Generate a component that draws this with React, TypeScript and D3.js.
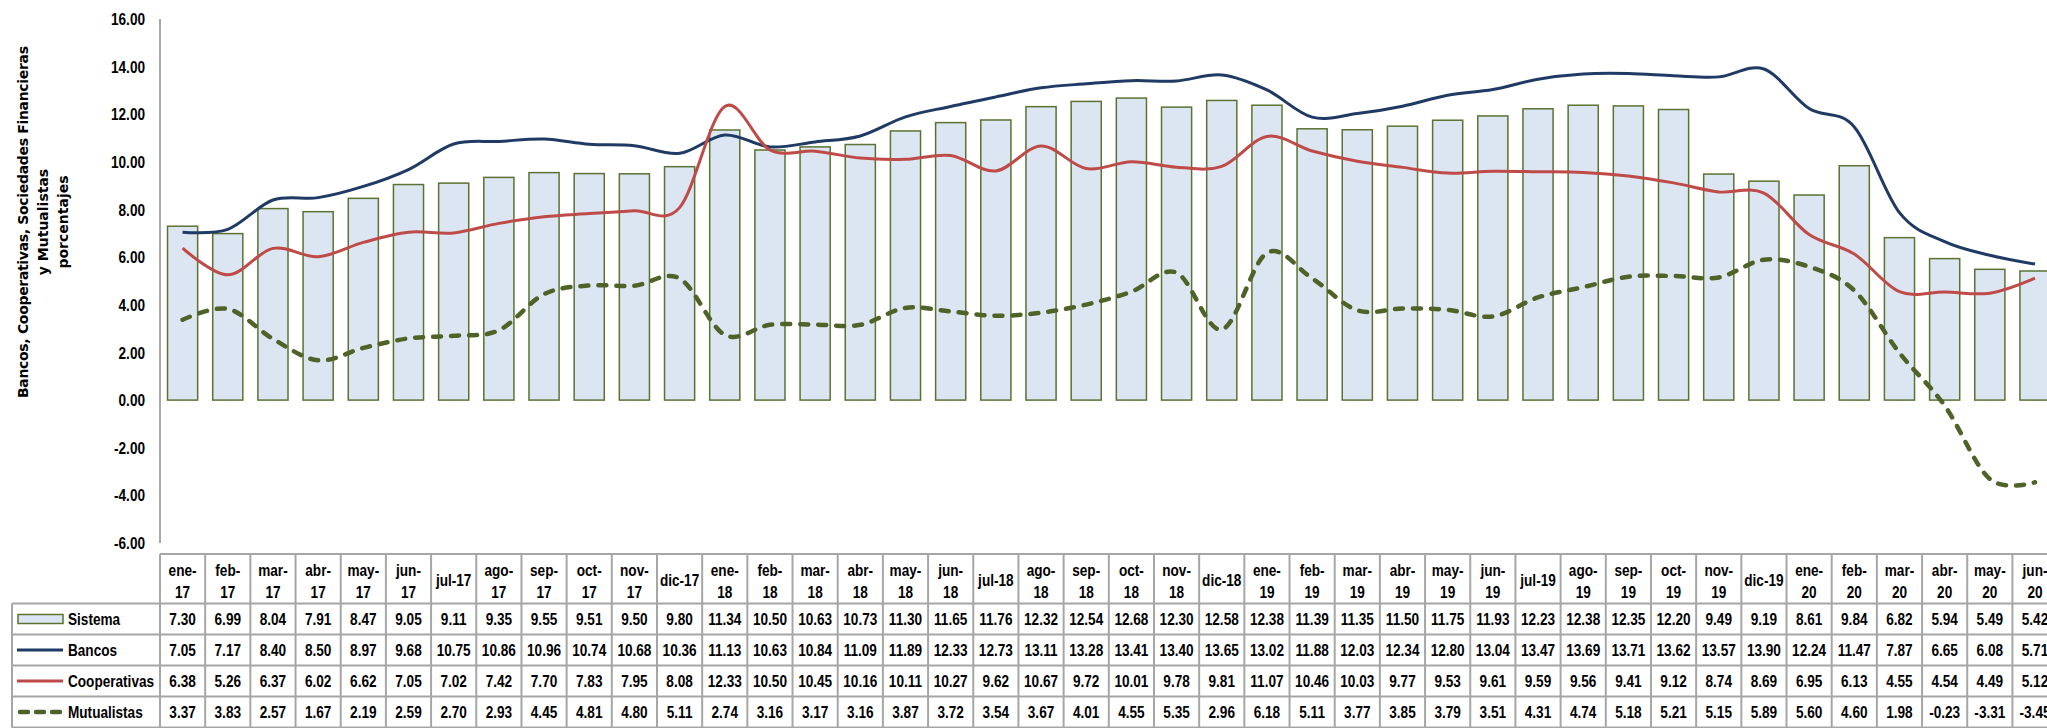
import React, { useEffect } from "react";
import * as d3 from "d3";

const categories: string[] = [
  "ene-17","feb-17","mar-17","abr-17","may-17","jun-17","jul-17","ago-17","sep-17","oct-17","nov-17","dic-17",
  "ene-18","feb-18","mar-18","abr-18","may-18","jun-18","jul-18","ago-18","sep-18","oct-18","nov-18","dic-18",
  "ene-19","feb-19","mar-19","abr-19","may-19","jun-19","jul-19","ago-19","sep-19","oct-19","nov-19","dic-19",
  "ene-20","feb-20","mar-20","abr-20","may-20","jun-20",
];

const sistema: number[] = [
  7.30, 6.99, 8.04, 7.91, 8.47, 9.05, 9.11, 9.35, 9.55, 9.51, 9.50, 9.80,
  11.34, 10.50, 10.63, 10.73, 11.30, 11.65, 11.76, 12.32, 12.54, 12.68, 12.30, 12.58,
  12.38, 11.39, 11.35, 11.50, 11.75, 11.93, 12.23, 12.38, 12.35, 12.20, 9.49, 9.19,
  8.61, 9.84, 6.82, 5.94, 5.49, 5.42,
];

const bancos: number[] = [
  7.05, 7.17, 8.40, 8.50, 8.97, 9.68, 10.75, 10.86, 10.96, 10.74, 10.68, 10.36,
  11.13, 10.63, 10.84, 11.09, 11.89, 12.33, 12.73, 13.11, 13.28, 13.41, 13.40, 13.65,
  13.02, 11.88, 12.03, 12.34, 12.80, 13.04, 13.47, 13.69, 13.71, 13.62, 13.57, 13.90,
  12.24, 11.47, 7.87, 6.65, 6.08, 5.71,
];

const cooperativas: number[] = [
  6.38, 5.26, 6.37, 6.02, 6.62, 7.05, 7.02, 7.42, 7.70, 7.83, 7.95, 8.08,
  12.33, 10.50, 10.45, 10.16, 10.11, 10.27, 9.62, 10.67, 9.72, 10.01, 9.78, 9.81,
  11.07, 10.46, 10.03, 9.77, 9.53, 9.61, 9.59, 9.56, 9.41, 9.12, 8.74, 8.69,
  6.95, 6.13, 4.55, 4.54, 4.49, 5.12,
];

const mutualistas: number[] = [
  3.37, 3.83, 2.57, 1.67, 2.19, 2.59, 2.70, 2.93, 4.45, 4.81, 4.80, 5.11,
  2.74, 3.16, 3.17, 3.16, 3.87, 3.72, 3.54, 3.67, 4.01, 4.55, 5.35, 2.96,
  6.18, 5.11, 3.77, 3.85, 3.79, 3.51, 4.31, 4.74, 5.18, 5.21, 5.15, 5.89,
  5.60, 4.60, 1.98, -0.23, -3.31, -3.45,
];

const yTicks: number[] = [-6, -4, -2, 0, 2, 4, 6, 8, 10, 12, 14, 16];

const singleLineLabels: string[] = ["jul-17", "dic-17", "jul-18", "dic-18", "jul-19", "dic-19"];

const titleLines: string[] = [
  "Bancos, Cooperativas, Sociedades Financieras",
  "y Mutualistas",
  "porcentajes",
];

const W = 2047;
const H = 728;
const FONT = "'Liberation Sans', Arial, sans-serif";
const TITLE_FONT = "'DejaVu Sans', Verdana, sans-serif";
const SQUEEZE = 0.8;

const BLUE = "#1F3A64";
const RED = "#BE4B48";
const GREEN = "#4F6228";
const BAR_FILL = "#DCE6F2";
const BAR_STROKE = "#5B7232";
const GRID = "#A6A6A6";

const fmt = (v: number) => v.toFixed(2);

function NText(props: {
  x: number;
  y: number;
  anchor?: "start" | "middle" | "end";
  size?: number;
  children: React.ReactNode;
}) {
  const { x, y, anchor = "middle", size = 17, children } = props;
  return (
    <text
      transform={`translate(${x},${y}) scale(${SQUEEZE},1)`}
      textAnchor={anchor}
      dominantBaseline="central"
      fontFamily={FONT}
      fontWeight="bold"
      fontSize={size}
      fill="#000"
    >
      {children}
    </text>
  );
}

export default function App() {
  useEffect(() => {
    document.body.style.margin = "0";
  }, []);

  const x = d3.scaleBand<string>().domain(categories).range([160, 2057.6]).padding(0);
  const y = d3.scaleLinear().domain([-6, 16]).range([543, 19]);
  const bw = x.bandwidth();
  const barW = bw / 1.5;
  const cx = (i: number) => (x(categories[i]) as number) + bw / 2;

  const line = d3
    .line<number>()
    .x((_, i) => cx(i))
    .y((d) => y(d))
    .curve(d3.curveCardinal.tension(0));

  const tableTop = 554;
  const headerBottom = 603.5;
  const rowH = 31;
  const rows = [
    { name: "Sistema", values: sistema },
    { name: "Bancos", values: bancos },
    { name: "Cooperativas", values: cooperativas },
    { name: "Mutualistas", values: mutualistas },
  ];
  const tableBottom = headerBottom + rowH * rows.length;
  const tableRight = x.range()[1];

  return (
    <svg
      width={W}
      height={H}
      style={{ position: "absolute", left: 0, top: 0, background: "#fff" }}
    >
      <rect x={0} y={0} width={W} height={H} fill="#fff" />

      {/* y-axis title */}
      {titleLines.map((t, i) => (
        <text
          key={t}
          transform={`translate(${22.5 + i * 20},222) rotate(-90)`}
          textAnchor="middle"
          dominantBaseline="central"
          fontFamily={TITLE_FONT}
          fontWeight="bold"
          fontSize={14}
          fill="#000"
          {...(i === 0 ? { textLength: 352, lengthAdjust: "spacing" } : {})}
        >
          {t}
        </text>
      ))}

      {/* y tick labels */}
      {yTicks.map((t) => (
        <NText key={t} x={145} y={y(t)} anchor="end">
          {fmt(t)}
        </NText>
      ))}

      {/* y axis line */}
      <line x1={160} x2={160} y1={y(16)} y2={y(-6)} stroke="#8C8C8C" strokeWidth={1.5} />

      {/* bars */}
      {sistema.map((v, i) => (
        <rect
          key={i}
          x={cx(i) - barW / 2}
          y={y(Math.max(0, v))}
          width={barW}
          height={Math.abs(y(v) - y(0))}
          fill={BAR_FILL}
          stroke={BAR_STROKE}
          strokeWidth={1.5}
        />
      ))}

      {/* lines */}
      <path d={line(bancos) || ""} fill="none" stroke={BLUE} strokeWidth={3} />
      <path d={line(cooperativas) || ""} fill="none" stroke={RED} strokeWidth={3} />
      <path
        d={line(mutualistas) || ""}
        fill="none"
        stroke={GREEN}
        strokeWidth={4.5}
        strokeDasharray="8 10"
        strokeLinecap="round"
      />

      {/* data table grid */}
      <g stroke={GRID} strokeWidth={2}>
        <line x1={160} x2={tableRight} y1={tableTop} y2={tableTop} />
        {rows.map((_, r) => (
          <line
            key={r}
            x1={12}
            x2={tableRight}
            y1={headerBottom + r * rowH}
            y2={headerBottom + r * rowH}
          />
        ))}
        <line x1={12} x2={tableRight} y1={tableBottom} y2={tableBottom} />
        <line x1={12} x2={12} y1={headerBottom} y2={tableBottom} />
        {categories.map((c) => (
          <line
            key={c}
            x1={x(c) as number}
            x2={x(c) as number}
            y1={tableTop}
            y2={tableBottom}
          />
        ))}
        <line x1={tableRight} x2={tableRight} y1={tableTop} y2={tableBottom} />
      </g>

      {/* header labels */}
      {categories.map((c, i) => {
        const single = singleLineLabels.includes(c);
        const parts = single ? [c] : [c.split("-")[0] + "-", c.split("-")[1]];
        return (
          <g key={c}>
            {parts.map((p, k) => (
              <NText key={k} x={cx(i)} y={single ? 579.5 : 570 + k * 21.5}>
                {p}
              </NText>
            ))}
          </g>
        );
      })}

      {/* table rows */}
      {rows.map((row, r) => {
        const yc = headerBottom + r * rowH + rowH / 2;
        return (
          <g key={row.name}>
            {r === 0 && (
              <rect x={18} y={yc - 4.5} width={45} height={9} fill={BAR_FILL} stroke={BAR_STROKE} strokeWidth={1.5} />
            )}
            {r === 1 && <line x1={17} x2={63} y1={yc} y2={yc} stroke={BLUE} strokeWidth={3} />}
            {r === 2 && <line x1={17} x2={63} y1={yc} y2={yc} stroke={RED} strokeWidth={3} />}
            {r === 3 && (
              <line
                x1={20}
                x2={60}
                y1={yc}
                y2={yc}
                stroke={GREEN}
                strokeWidth={4.5}
                strokeDasharray="8 8"
                strokeLinecap="round"
              />
            )}
            <NText x={68} y={yc} anchor="start">
              {row.name}
            </NText>
            {row.values.map((v, i) => (
              <NText key={i} x={cx(i)} y={yc}>
                {fmt(v)}
              </NText>
            ))}
          </g>
        );
      })}
    </svg>
  );
}
